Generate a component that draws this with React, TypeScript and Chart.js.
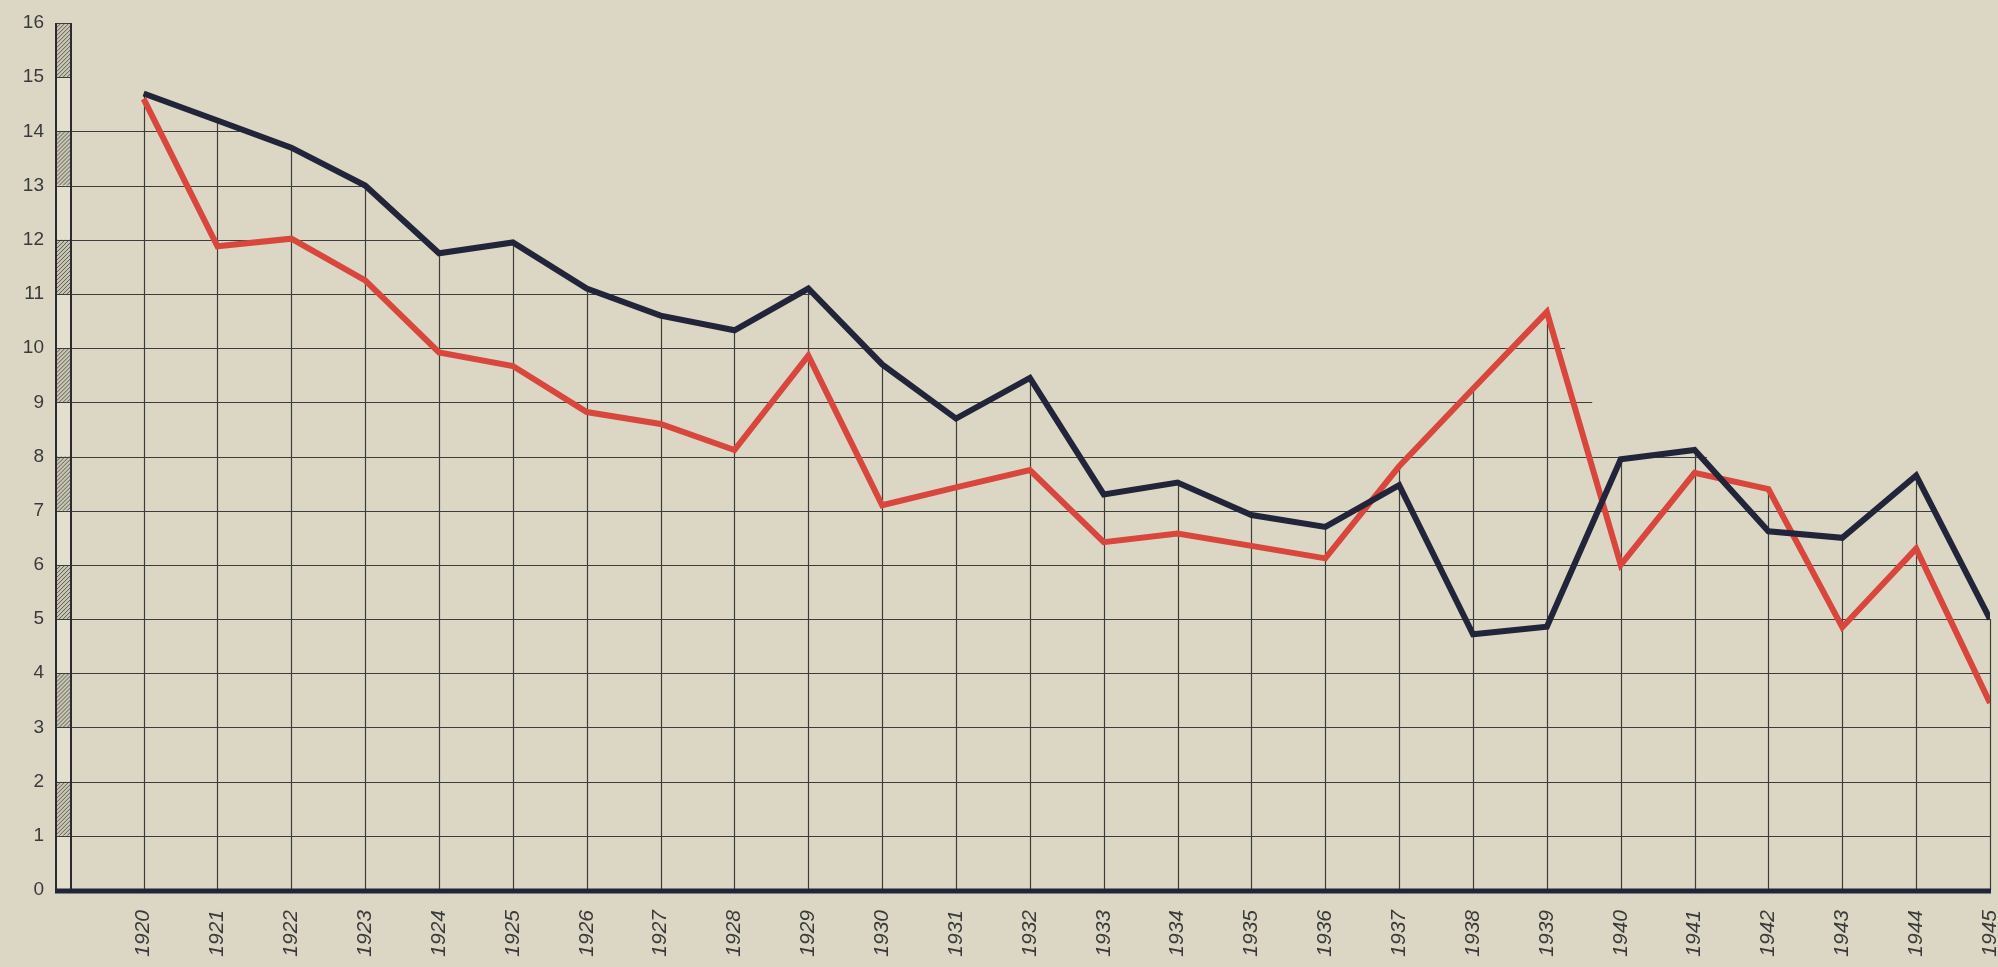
import React, { useEffect, useRef } from "react";
import { Chart, registerables } from "chart.js";

Chart.register(...registerables);

const years = [1920, 1921, 1922, 1923, 1924, 1925, 1926, 1927, 1928, 1929, 1930, 1931, 1932, 1933, 1934, 1935, 1936, 1937, 1938, 1939, 1940, 1941, 1942, 1943, 1944, 1945];
const darkSeries = [14.7, 14.2, 13.7, 13.0, 11.75, 11.95, 11.1, 10.6, 10.33, 11.1, 9.7, 8.7, 9.45, 7.3, 7.52, 6.92, 6.7, 7.47, 4.72, 4.86, 7.95, 8.12, 6.62, 6.5, 7.65, 5.0];
const redSeries = [14.6, 11.88, 12.02, 11.25, 9.92, 9.67, 8.82, 8.6, 8.12, 9.86, 7.1, 7.43, 7.75, 6.42, 6.58, 6.35, 6.12, 7.82, 9.25, 10.67, 6.0, 7.7, 7.4, 4.85, 6.3, 3.45];
const yTickValues = [0, 1, 2, 3, 4, 5, 6, 7, 8, 9, 10, 11, 12, 13, 14, 15, 16];
const hatchedBands = [1, 3, 5, 7, 9, 11, 13, 15];

const PAPER = "#dbd7c4";
const INK = "#3d3d3b";
const NAVY = "#22253a";
const RED = "#d8463e";

const paperPlugin = {
  id: "paperGrid",
  beforeDatasetsDraw(chart: any) {
    const { ctx, chartArea } = chart;
    const xs = chart.scales.x;
    const ys = chart.scales.y;
    const env = darkSeries.map((b, i) => Math.max(b, redSeries[i]));
    const n = years.length;
    const barL = chartArea.left;
    const barR = chartArea.left + 16;
    const y0 = ys.getPixelForValue(0);
    const yTop = ys.getPixelForValue(16);
    ctx.save();

    // horizontal grid lines, up to the last point where the envelope reaches them
    ctx.strokeStyle = INK;
    ctx.lineWidth = 1.2;
    yTickValues.forEach((v) => {
      if (v === 0 || v === 16) return;
      let last = -1;
      for (let i = 0; i < n; i++) if (env[i] >= v) last = i;
      if (last < 0) return;
      let xe;
      if (last === n - 1) xe = xs.getPixelForValue(years[n - 1]);
      else {
        const xa = xs.getPixelForValue(years[last]);
        const xb = xs.getPixelForValue(years[last + 1]);
        const t = (env[last] - v) / (env[last] - env[last + 1]);
        xe = xa + t * (xb - xa);
      }
      const py = Math.round(ys.getPixelForValue(v)) + 0.5;
      ctx.beginPath();
      ctx.moveTo(barR, py);
      ctx.lineTo(xe, py);
      ctx.stroke();
    });

    // vertical lines up to the envelope
    years.forEach((yr, i) => {
      const px = Math.round(xs.getPixelForValue(yr)) + 0.5;
      ctx.beginPath();
      ctx.moveTo(px, y0);
      ctx.lineTo(px, ys.getPixelForValue(env[i]));
      ctx.stroke();
    });

    // left scale bar
    ctx.fillStyle = "#e2dfcf";
    ctx.fillRect(barL, yTop, barR - barL, y0 - yTop);
    hatchedBands.forEach((b) => {
      const top = ys.getPixelForValue(b + 1);
      const bot = ys.getPixelForValue(b);
      ctx.save();
      ctx.beginPath();
      ctx.rect(barL, top, barR - barL, bot - top);
      ctx.clip();
      ctx.fillStyle = "#c9c5b3";
      ctx.fillRect(barL, top, barR - barL, bot - top);
      ctx.strokeStyle = "rgba(60,60,58,0.75)";
      ctx.lineWidth = 1;
      for (let k = -40; k < bot - top + 40; k += 4) {
        ctx.beginPath();
        ctx.moveTo(barL, bot - k);
        ctx.lineTo(barR, bot - k - 16);
        ctx.stroke();
      }
      ctx.restore();
      ctx.strokeStyle = INK;
      ctx.lineWidth = 1.2;
      ctx.beginPath();
      ctx.moveTo(barL, Math.round(top) + 0.5);
      ctx.lineTo(barR, Math.round(top) + 0.5);
      ctx.moveTo(barL, Math.round(bot) + 0.5);
      ctx.lineTo(barR, Math.round(bot) + 0.5);
      ctx.stroke();
    });
    ctx.strokeStyle = "#2a2a30";
    ctx.lineWidth = 2;
    ctx.beginPath();
    ctx.moveTo(barL + 1, yTop);
    ctx.lineTo(barL + 1, y0);
    ctx.moveTo(barR, yTop);
    ctx.lineTo(barR, y0);
    ctx.stroke();

    // baseline
    ctx.strokeStyle = NAVY;
    ctx.lineWidth = 5;
    ctx.beginPath();
    ctx.moveTo(barL, y0 + 1);
    ctx.lineTo(xs.getPixelForValue(years[n - 1]) + 1, y0 + 1);
    ctx.stroke();
    ctx.restore();
  },
};

export default function App() {
  const ref = useRef<HTMLCanvasElement | null>(null);
  useEffect(() => {
    document.body.style.margin = "0";
    const chart = new Chart(ref.current as HTMLCanvasElement, {
      type: "line",
      data: {
        datasets: [
          {
            label: "dark",
            data: years.map((yr, i) => ({ x: yr, y: darkSeries[i] })),
            borderColor: NAVY,
            borderWidth: 6,
            pointRadius: 0,
            tension: 0,
            borderJoinStyle: "miter",
          },
          {
            label: "red",
            data: years.map((yr, i) => ({ x: yr, y: redSeries[i] })),
            borderColor: RED,
            borderWidth: 6,
            pointRadius: 0,
            tension: 0,
            borderJoinStyle: "miter",
          },
        ],
      },
      options: {
        responsive: false,
        animation: false,
        layout: { padding: { top: 23, right: 8, left: 0, bottom: 0 } },
        plugins: { legend: { display: false }, tooltip: { enabled: false } },
        scales: {
          x: {
            type: "linear",
            min: 1918.8,
            max: 1945,
            grid: { display: false },
            border: { display: false },
            afterBuildTicks: (scale: any) => {
              scale.ticks = years.map((v) => ({ value: v }));
            },
            afterFit: (scale: any) => {
              scale.height = 77;
              scale.paddingLeft = 0;
              scale.paddingRight = 0;
            },
            ticks: {
              autoSkip: false,
              maxRotation: 90,
              minRotation: 90,
              padding: 12,
              color: "#3a3a3a",
              font: { family: "Liberation Sans", size: 21, style: "italic" },
              callback: (v: any) => String(v),
            },
          },
          y: {
            type: "linear",
            min: 0,
            max: 16,
            grid: { display: false },
            border: { display: false },
            afterBuildTicks: (scale: any) => {
              scale.ticks = yTickValues.map((v) => ({ value: v }));
            },
            afterFit: (scale: any) => {
              scale.width = 55;
              scale.paddingTop = 0;
              scale.paddingBottom = 0;
            },
            ticks: {
              padding: 3,
              color: "#3a3a3a",
              font: { family: "Liberation Sans", size: 19 },
            },
          },
        },
      },
      plugins: [paperPlugin],
    } as any);
    return () => chart.destroy();
  }, []);
  return (
    <div style={{ position: "fixed", left: 0, top: 0, width: 1998, height: 967, background: PAPER }}>
      <canvas ref={ref} width={1998} height={967} />
    </div>
  );
}
